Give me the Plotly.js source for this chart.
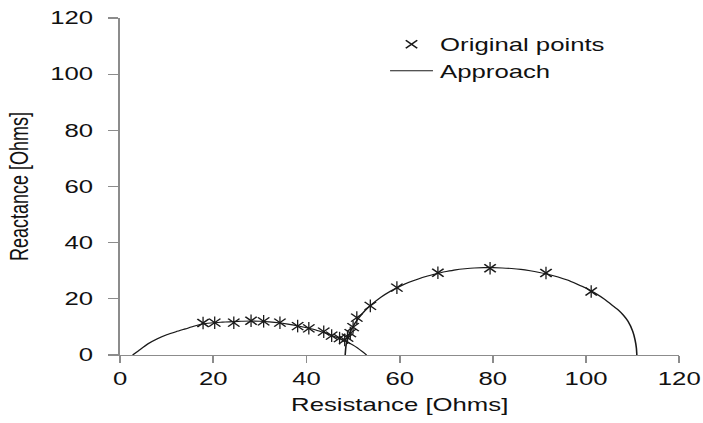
<!DOCTYPE html>
<html>
<head>
<meta charset="utf-8">
<script src="https://cdn.plot.ly/plotly-3.0.1.min.js"></script>
<style>
  html, body { margin: 0; padding: 0; background: #ffffff; overflow: hidden; }
  #frame { width: 703px; height: 423px; overflow: hidden; }
  /* the figure is laid out narrow and widened, giving the broad lettering */
  #chart { width: 492px; height: 423px; transform: scaleX(1.43); transform-origin: 0 0; }
</style>
</head>
<body>
<div id="frame"><div id="chart"></div></div>
<script>
// Measured impedance points (resistance, reactance) in ohms
const pointsR = [17.8, 20.3, 24.4, 28.1, 30.8, 34.3, 38.1, 40.5, 43.7, 45.4, 47.1, 48.2,
                 48.8, 49.4, 50.0, 50.8, 53.7, 59.4, 68.2, 79.4, 91.4, 101.1];
const pointsX = [11.4, 11.5, 11.5, 12.2, 12.0, 11.5, 10.3, 9.5, 8.3, 6.9, 6.0, 5.4,
                 6.2, 7.8, 9.9, 13.3, 17.5, 24.0, 29.3, 30.9, 29.2, 22.6];

// Fitted approach: low-frequency arc
const arc1R = [2.7, 4, 6, 8, 10, 12, 14, 16, 18, 20, 22, 24, 26, 28, 30, 32, 34, 36, 38,
               40, 42, 44, 46, 48, 50, 52, 52.9];
const arc1X = [0, 1.6, 4.0, 5.8, 7.2, 8.3, 9.3, 10.3, 11.1, 11.5, 11.7, 11.9, 12.0, 12.1,
               12.0, 11.8, 11.5, 11.0, 10.4, 9.7, 8.9, 7.8, 6.6, 5.2, 3.5, 1.2, 0];

// Fitted approach: high-frequency arc
const arc2R = [48.3, 48.5, 49, 50, 51, 52.5, 54, 56, 58, 60, 62, 64, 66, 68, 70, 72, 74,
               76, 78, 80, 82, 84, 86, 88, 90, 92, 94, 96, 98, 100, 102, 104, 106, 107,
               108, 109, 110, 110.5, 110.8, 110.9];
const arc2X = [0, 3.5, 6.6, 10.2, 12.7, 15.7, 18.0, 20.6, 22.7, 24.4, 25.9, 27.1, 28.1,
               29.0, 29.7, 30.3, 30.7, 31.0, 31.1, 31.1, 31.0, 30.8, 30.5, 30.0, 29.4,
               28.7, 27.8, 26.7, 25.3, 23.8, 22.0, 19.8, 17.2, 15.9, 14.2, 12.0, 8.5,
               5.5, 2.5, 0];

const axisTicks = [0, 20, 40, 60, 80, 100, 120];

const font = { family: 'Liberation Sans, Arial, sans-serif', size: 18, color: '#111' };
const ink = '#1a1a1a';

const traces = [
  {
    // diagonal strokes of the star markers
    x: pointsR, y: pointsX,
    type: 'scatter', mode: 'markers',
    name: 'Original points',
    legendgroup: 'pts',
    marker: { symbol: 'x-thin-open', size: 8, color: ink, line: { color: ink, width: 1.2 } }
  },
  {
    // vertical strokes of the star markers
    x: pointsR, y: pointsX,
    type: 'scatter', mode: 'markers',
    name: 'Original points',
    legendgroup: 'pts', showlegend: false,
    marker: { symbol: 'line-ns-open', size: 9, color: ink, line: { color: ink, width: 0.9 } }
  },
  {
    x: arc1R.concat([null], arc2R), y: arc1X.concat([null], arc2X),
    type: 'scatter', mode: 'lines',
    name: 'Approach',
    connectgaps: false,
    line: { color: ink, width: 1.1, shape: 'spline', smoothing: 0.6 }
  }
];

const axisCommon = {
  range: [0, 120],
  tickvals: axisTicks,
  ticktext: axisTicks.map(String),
  showgrid: false,
  zeroline: false,
  showline: true,
  linecolor: '#8c8c8c',
  linewidth: 1.3,
  ticks: 'outside',
  ticklen: 7,
  tickcolor: '#8c8c8c',
  tickwidth: 1.3,
  tickfont: font
};

const layout = {
  width: 492, height: 423,
  margin: { l: 83.6, r: 16.5, t: 18, b: 68 },
  paper_bgcolor: '#fff', plot_bgcolor: '#fff',
  font: font,
  showlegend: true,
  legend: {
    x: 0.470, y: 0.976, xanchor: 'left', yanchor: 'top',
    bgcolor: 'rgba(0,0,0,0)', font: font,
    traceorder: 'normal'
  },
  xaxis: Object.assign({}, axisCommon, {
    title: { text: 'Resistance [Ohms]', font: font, standoff: 10 }
  }),
  yaxis: Object.assign({}, axisCommon, {
    ticklabelstandoff: 7,
    title: { text: 'Reactance [Ohms]', font: font, standoff: 10 }
  })
};

Plotly.newPlot('chart', traces, layout, { displayModeBar: false, staticPlot: true });
</script>
</body>
</html>
